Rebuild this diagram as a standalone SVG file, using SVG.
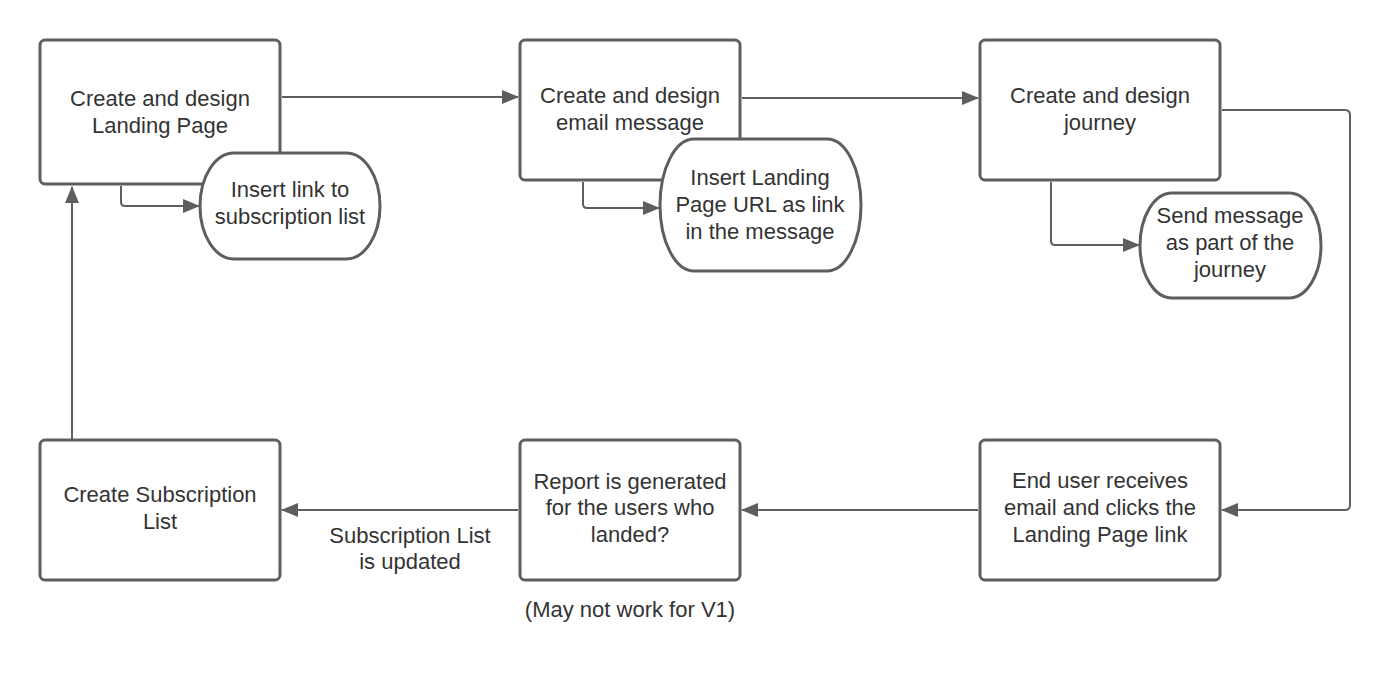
<svg xmlns="http://www.w3.org/2000/svg" width="1390" height="683" viewBox="0 0 1390 683">
<style>
.box{fill:#ffffff;stroke:#5e5e5e;stroke-width:3}
.ln{fill:none;stroke:#5e5e5e;stroke-width:2}
.t{font-family:"Liberation Sans",Arial,sans-serif;font-size:22px;fill:#333333;text-anchor:middle}
</style>
<defs>
<marker id="ah" markerUnits="userSpaceOnUse" markerWidth="18" markerHeight="14" refX="16" refY="7" orient="auto">
<path d="M0,0 L17,7 L0,14 Z" fill="#5e5e5e"/>
</marker>
</defs>
<rect width="1390" height="683" fill="#ffffff"/>
<g id="connectors">
<path class="ln" d="M282,97 L518,97" marker-end="url(#ah)"/>
<path class="ln" d="M742,98 L978,98" marker-end="url(#ah)"/>
<path class="ln" d="M1222,110 L1345,110 Q1350,110 1350,115 L1350,505 Q1350,510 1345,510 L1222,510" marker-end="url(#ah)"/>
<path class="ln" d="M978,510 L742,510" marker-end="url(#ah)"/>
<path class="ln" d="M518,510 L282,510" marker-end="url(#ah)"/>
<path class="ln" d="M72,439 L72,187" marker-end="url(#ah)"/>
<path class="ln" d="M121,186 L121,202 Q121,206 125,206 L199,206" marker-end="url(#ah)"/>
<path class="ln" d="M583,182 L583,204 Q583,208 587,208 L659,208" marker-end="url(#ah)"/>
<path class="ln" d="M1051,182 L1051,241 Q1051,245 1055,245 L1139,245" marker-end="url(#ah)"/>
</g>
<g id="n1">
<rect class="box" x="40" y="40" width="240" height="144" rx="5"/>
<text class="t" x="160" y="106">Create and design</text>
<text class="t" x="160" y="132.5">Landing Page</text>
</g>
<g id="n1b">
<rect class="box" x="200" y="153" width="180" height="106" rx="34" ry="53"/>
<text class="t" x="290" y="197">Insert link to</text>
<text class="t" x="290" y="224">subscription list</text>
</g>
<g id="n2">
<rect class="box" x="520" y="40" width="220" height="140" rx="5"/>
<text class="t" x="630" y="103">Create and design</text>
<text class="t" x="630" y="129.5">email message</text>
</g>
<g id="n2b">
<rect class="box" x="660" y="139" width="201" height="132" rx="34" ry="66"/>
<text class="t" x="760" y="185">Insert Landing</text>
<text class="t" x="760" y="212">Page URL as link</text>
<text class="t" x="760" y="239">in the message</text>
</g>
<g id="n3">
<rect class="box" x="980" y="40" width="240" height="140" rx="5"/>
<text class="t" x="1100" y="103">Create and design</text>
<text class="t" x="1100" y="129.5">journey</text>
</g>
<g id="n3b">
<rect class="box" x="1140" y="193" width="181" height="105" rx="32" ry="52.5"/>
<text class="t" x="1230" y="223">Send message</text>
<text class="t" x="1230" y="250">as part of the</text>
<text class="t" x="1230" y="277">journey</text>
</g>
<g id="n4">
<rect class="box" x="40" y="440" width="240" height="140" rx="5"/>
<text class="t" x="160" y="502">Create Subscription</text>
<text class="t" x="160" y="529">List</text>
</g>
<g id="n5">
<rect class="box" x="520" y="440" width="220" height="140" rx="5"/>
<text class="t" x="630" y="489">Report is generated</text>
<text class="t" x="630" y="515">for the users who</text>
<text class="t" x="630" y="542">landed?</text>
</g>
<g id="n6">
<rect class="box" x="980" y="440" width="240" height="140" rx="5"/>
<text class="t" x="1100" y="488">End user receives</text>
<text class="t" x="1100" y="515">email and clicks the</text>
<text class="t" x="1100" y="542">Landing Page link</text>
</g>
<g id="labels">
<text class="t" x="410" y="543">Subscription List</text>
<text class="t" x="410" y="569">is updated</text>
<text class="t" x="630" y="617">(May not work for V1)</text>
</g>
</svg>
